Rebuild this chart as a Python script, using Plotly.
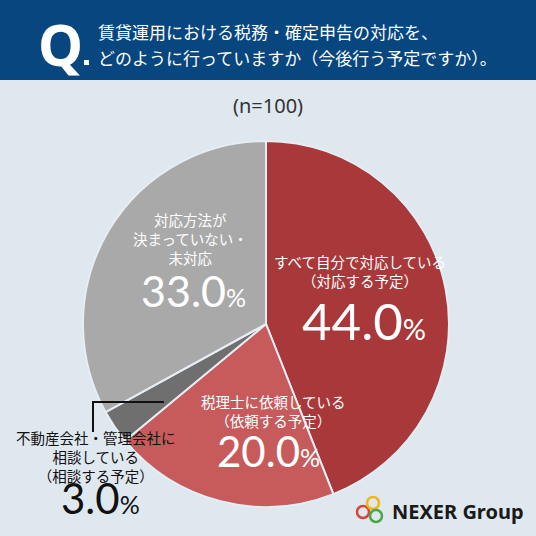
import plotly.graph_objects as go

W = H = 536

# data
labels = ["すべて自分で対応している（対応する予定）", "税理士に依頼している（依頼する予定）",
          "不動産会社・管理会社に相談している（相談する予定）", "対応方法が決まっていない・未対応"]
values = [44.0, 20.0, 3.0, 33.0]
colors = ["#a8383a", "#c75b5c", "#6f6f6f", "#a9a9a9"]
title_lines = ["賃貸運用における税務・確定申告の対応を、", "どのように行っていますか（今後行う予定ですか）。"]
n_label = "(n=100)"


def px(x):
    return x / W


def py(y):
    return 1 - y / H


fig = go.Figure()
fig.add_trace(go.Pie(
    values=values, labels=labels, sort=False, direction="clockwise",
    marker=dict(colors=colors, line=dict(color="#e6edf4", width=2)),
    textinfo="none", hoverinfo="none", showlegend=False,
    domain=dict(x=[px(83), px(449)], y=[py(507), py(141)]),
))

ann = []


def txt(x, y, s, size, color, family="Noto Sans CJK JP", xanchor="center"):
    ann.append(dict(x=px(x), y=py(y), xref="paper", yref="paper", text=s, showarrow=False,
                    xanchor=xanchor, yanchor="middle",
                    font=dict(size=size, color=color, family=family)))


def pct(v, small):
    return f"{v:.1f}<span style='font-size:{small}px'>%</span>"


# header
txt(36, 44, "<b>Q</b>", 57, "white", family="Noto Sans", xanchor="left")
txt(96, 32, title_lines[0], 17, "white", xanchor="left")
txt(96, 57, title_lines[1], 17, "white", xanchor="left")
txt(268, 106, n_label, 20, "#333333", family="Noto Sans")

# 44%
txt(360, 271, "すべて自分で対応している<br>（対応する予定）", 14.5, "white")
txt(364, 320, pct(values[0], 29), 51, "white", family="Lato")
# 33%
txt(190, 239, "対応方法が<br>決まっていない・<br>未対応", 14.5, "white")
txt(193, 290, pct(values[3], 25), 43, "white", family="Lato")
# 20%
txt(273, 411, "税理士に依頼している<br>（依頼する予定）", 14.5, "white")
txt(268, 451, pct(values[1], 25), 42, "white", family="Lato")
# 3%
txt(96, 456, "不動産会社・管理会社に<br>相談している<br>（相談する予定）", 14.5, "#111111")
txt(100, 498, pct(values[2], 25), 42, "#111111", family="Lato")
# logo text
txt(390, 511, "<b>NEXER Group</b>", 20, "#1a1a1a", family="Noto Sans", xanchor="left")

shapes = [
    dict(type="rect", xref="paper", yref="paper", x0=0, x1=1, y0=py(80), y1=1,
         fillcolor="#07467f", line=dict(width=0), layer="below"),
    dict(type="rect", xref="paper", yref="paper", x0=px(84), x1=px(89), y0=py(65), y1=py(60),
         fillcolor="white", line=dict(width=0)),
    dict(type="path", xref="paper", yref="paper",
         path=f"M {px(93)},{py(432)} L {px(93)},{py(402)} L {px(164)},{py(402)}",
         line=dict(color="#111111", width=2)),
]
for cx, cy, c in [(363, 512, "#d9443a"), (373, 503, "#f2b51c"), (376, 516, "#4aa84a")]:
    shapes.append(dict(type="circle", xref="paper", yref="paper",
                       x0=px(cx - 6), x1=px(cx + 6), y0=py(cy + 6), y1=py(cy - 6),
                       line=dict(color=c, width=2.5)))

fig.update_layout(
    width=W, height=H, margin=dict(l=0, r=0, t=0, b=0),
    paper_bgcolor="#dfe7ef", plot_bgcolor="#dfe7ef",
    annotations=ann, shapes=shapes,
)
fig.write_html("out.html", config={"displayModeBar": False},
               post_script="document.body.style.margin='0';document.body.style.overflow='hidden';")
